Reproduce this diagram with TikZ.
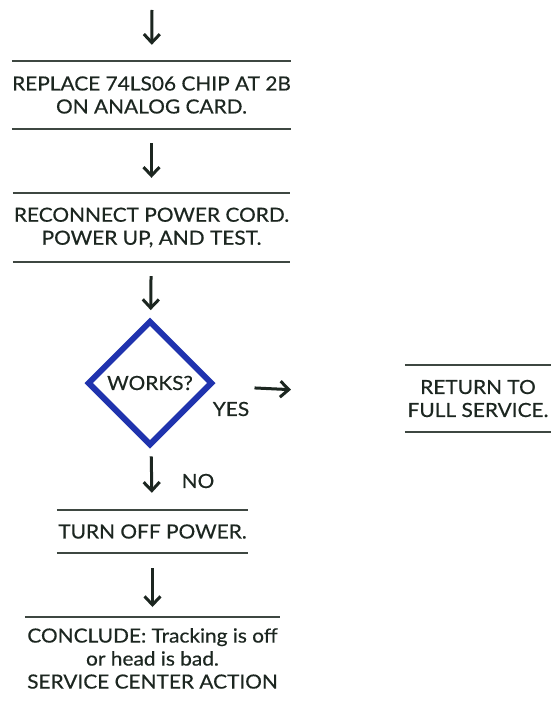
\documentclass[tikz,border=0pt]{standalone}
\usepackage{fontspec}
\setmainfont{Lato}[FakeStretch=1.07, FakeBold=0.4]
\usepackage{xcolor}
\usetikzlibrary{arrows.meta, positioning, shapes.geometric}
\definecolor{inkdark}{HTML}{1C2620}
\definecolor{diablue}{HTML}{2033AE}

\begin{document}
\begin{tikzpicture}[x=1pt, y=-1pt,
    every node/.style={text=inkdark, font=\fontsize{19.5}{23}\selectfont, align=center},
    rulebox/.style={inner sep=0pt},
    flow/.style={-{Straight Barb[length=8.5pt, width=16pt, line width=3pt]}, line width=3pt, draw=inkdark},
    rule/.style={line width=1.6pt, draw=inkdark!85}
]
    \useasboundingbox[fill=white] (0,0) rectangle (551,706);

    % Schritte links
    \coordinate (start) at (152, 10);
    \node[rulebox, minimum width=277, minimum height=68] (replace) at (151.5, 95) {REPLACE 74LS06 CHIP AT 2B\\ON ANALOG CARD.};
    \node[rulebox, minimum width=277, minimum height=69] (reconnect) at (151.5, 227.5) {RECONNECT POWER CORD.\\POWER UP, AND TEST.};

    % Entscheidung
    \node[diamond, draw=diablue, line width=6pt, minimum width=125, minimum height=125, inner sep=0pt] (works) at (150, 383) {WORKS?};
    \node at (231, 409) {YES};
    \node at (198, 481) {NO};

    % Ausgaenge
    \node[rulebox, minimum width=146, minimum height=67] (ret) at (478, 398.5) {RETURN TO\\FULL SERVICE.};
    \node[rulebox, minimum width=191, minimum height=43] (off) at (152.5, 531.5) {TURN OFF POWER.};
    \node[rulebox, minimum width=255, anchor=north] (conclude) at (152.5, 628) {CONCLUDE: Tracking is off\\or head is bad.\\SERVICE CENTER ACTION};

    % Linien
    \foreach \n in {replace, reconnect, ret, off}
        \draw[rule] (\n.north west) -- (\n.north east) (\n.south west) -- (\n.south east);
    \draw[rule] ([yshift=11pt]conclude.north west) -- ([yshift=11pt]conclude.north east);

    % Pfeile
    \draw[flow, shorten >=16pt] (start) -- (replace);
    \draw[flow, shorten <=14pt, shorten >=15pt] (replace) -- (reconnect);
    \draw[flow, shorten <=14pt, shorten >=8pt] (reconnect) -- (works);
    \draw[flow, shorten <=42pt, shorten >=114pt] (works) -- (ret);
    \draw[flow, shorten <=9pt, shorten >=17pt] (works) -- (off);
    \draw[flow, shorten <=15pt, shorten >=10pt] (off) -- ([yshift=11pt]conclude.north);
\end{tikzpicture}
\end{document}
